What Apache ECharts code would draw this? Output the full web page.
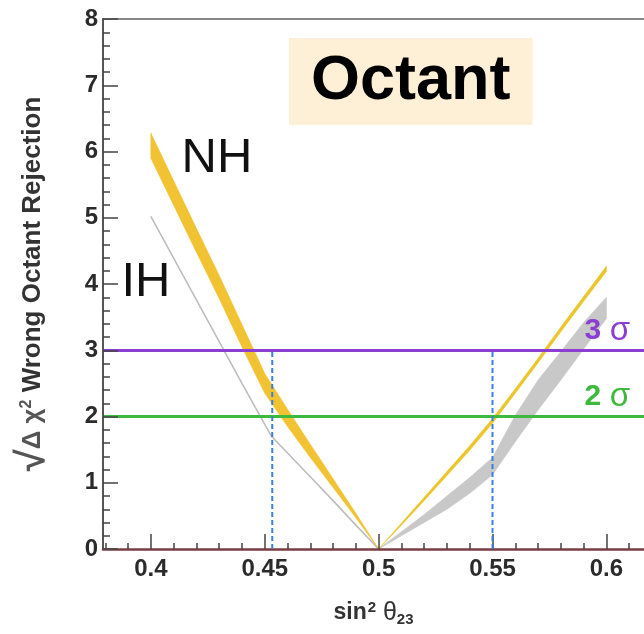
<!DOCTYPE html>
<html>
<head>
<meta charset="utf-8">
<script src="https://cdn.jsdelivr.net/npm/echarts@6/dist/echarts.min.js"></script>
<style>html,body{margin:0;padding:0;background:#fff}#c{width:644px;height:634px}</style>
</head>
<body>
<div id="c"></div>
<script>
// ---- data ----
const xMajorTicks = [0.40, 0.45, 0.50, 0.55, 0.60];
const xTickLabels = ['0.4', '0.45', '0.5', '0.55', '0.6'];
const xMinorTicks = [0.38,0.39,0.41,0.42,0.43,0.44,0.46,0.47,0.48,0.49,0.51,0.52,0.53,0.54,0.56,0.57,0.58,0.59,0.61];

// NH (normal hierarchy) band, lower octant side
const nhLeftX    = [0.40, 0.41, 0.42, 0.43, 0.44, 0.45, 0.46, 0.47, 0.48, 0.49, 0.50];
const nhLeftLow  = [5.90, 5.19, 4.48, 3.78, 3.05, 2.35, 1.85, 1.38, 0.93, 0.47, 0.00];
const nhLeftHigh = [6.28, 5.56, 4.84, 4.13, 3.39, 2.65, 2.11, 1.58, 1.06, 0.54, 0.00];
// NH band, upper octant side
const nhRightX    = [0.50, 0.51, 0.52, 0.53, 0.54, 0.55, 0.56, 0.57, 0.58, 0.59, 0.60];
const nhRightLow  = [0.00, 0.36, 0.73, 1.11, 1.49, 1.90, 2.35, 2.81, 3.28, 3.74, 4.19];
const nhRightHigh = [0.00, 0.39, 0.78, 1.17, 1.56, 1.97, 2.42, 2.88, 3.35, 3.81, 4.27];
// IH (inverted hierarchy) line, lower octant side
const ihLeftX = [0.40, 0.41, 0.42, 0.43, 0.44, 0.45, 0.453, 0.46, 0.47, 0.48, 0.49, 0.50];
const ihLeftY = [5.02, 4.39, 3.76, 3.13, 2.50, 1.88, 1.70, 1.45, 1.09, 0.73, 0.36, 0.00];
// IH band, upper octant side
const ihRightX    = [0.50, 0.51, 0.52, 0.53, 0.54, 0.55, 0.56, 0.57, 0.58, 0.59, 0.60];
const ihRightLow  = [0.00, 0.20, 0.40, 0.60, 0.84, 1.12, 1.62, 2.10, 2.55, 3.02, 3.48];
const ihRightHigh = [0.00, 0.26, 0.52, 0.80, 1.08, 1.38, 2.02, 2.55, 2.98, 3.42, 3.80];

// reference levels and octant boundaries
const sigmaLevels = [3, 2];
const sigmaNames  = ['3', '2'];
const sigmaColors = ['#8a3fd2', '#3dba3d'];
const dashX = [0.4533, 0.55];
const dashTop = 3;

// ---- chart ----
const xMin = 0.379, xMax = 0.6165;
const FF = '"Liberation Sans", Arial, sans-serif';

function bandSeries(name, xs, lo, hi, color, z) {
  return {
    type: 'custom', name: name, z: z,
    data: xs.map((x, i) => [x, lo[i], hi[i]]),
    encode: { x: 0, y: [1, 2] },
    silent: true,
    renderItem: function (params, api) {
      if (params.dataIndex !== 0) return null;
      const pts = [];
      for (let i = 0; i < xs.length; i++) pts.push(api.coord([xs[i], hi[i]]));
      for (let i = xs.length - 1; i >= 0; i--) pts.push(api.coord([xs[i], lo[i]]));
      return { type: 'polygon', shape: { points: pts }, style: { fill: color, stroke: color, lineWidth: 0.6 } };
    }
  };
}

const chart = echarts.init(document.getElementById('c'), null, { renderer: 'canvas' });
const series = [
  bandSeries('IH upper', ihRightX, ihRightLow, ihRightHigh, '#c8c8c8', 2),
  {
    type: 'line', name: 'IH lower', z: 2, symbol: 'none', silent: true,
    data: ihLeftX.map((x, i) => [x, ihLeftY[i]]),
    lineStyle: { color: '#bdbdbd', width: 1.6 },
    markLine: {
      silent: true, symbol: ['none', 'none'], animation: false,
      data: sigmaLevels.map((v, i) => ({
        yAxis: v,
        lineStyle: { color: sigmaColors[i], width: 3, type: 'solid' },
        label: {
          show: true, position: 'insideEndTop', distance: [14, 3],
          formatter: '{n|' + sigmaNames[i] + '}{g| }{s|σ}',
          rich: {
            n: { fontSize: 30, fontWeight: 'bold', color: sigmaColors[i], fontFamily: FF },
            g: { fontSize: 30, color: sigmaColors[i], fontFamily: FF },
            s: { fontSize: 33, color: sigmaColors[i], fontFamily: FF }
          }
        }
      }))
    }
  },
  bandSeries('NH lower', nhLeftX, nhLeftLow, nhLeftHigh, '#f1c232', 3),
  bandSeries('NH upper', nhRightX, nhRightLow, nhRightHigh, '#ecc52a', 3)
];
dashX.forEach((x, i) => {
  series.push({
    type: 'line', name: 'boundary' + i, z: 6, symbol: 'none', silent: true,
    data: [[x, 0], [x, dashTop]],
    lineStyle: { color: '#3c7fd6', width: 2, type: [5, 3] }
  });
});

chart.setOption({
  animation: false,
  backgroundColor: '#ffffff',
  title: {
    text: 'Octant', left: 289, top: 38, padding: [11, 22],
    backgroundColor: '#fdf0d6',
    textStyle: { fontSize: 63, fontWeight: 'bold', color: '#000', fontFamily: FF, lineHeight: 65 }
  },
  grid: { left: 103, right: 0, top: 19, bottom: 85, containLabel: false },
  xAxis: [
    {
      type: 'value', min: xMin, max: xMax, position: 'bottom', z: 5,
      name: '{a|sin}{b|2}{c| θ}{d|23}', nameLocation: 'middle', nameGap: 50,
      nameTextStyle: {
        rich: {
          a: { fontSize: 23, fontWeight: 'bold', color: '#333', fontFamily: FF },
          b: { fontSize: 15, fontWeight: 'bold', color: '#333', fontFamily: FF, padding: [0, 0, 11, 1] },
          c: { fontSize: 25, color: '#333', fontFamily: FF },
          d: { fontSize: 15, fontWeight: 'bold', color: '#333', fontFamily: FF, padding: [13, 0, 0, 0] }
        }
      },
      axisLine: { show: true, onZero: false, lineStyle: { color: '#7b3c43', width: 2.5 } },
      axisTick: { show: true, inside: true, length: 15, customValues: xMajorTicks, lineStyle: { color: '#444', width: 1.5 } },
      axisLabel: {
        customValues: xMajorTicks, margin: 8, fontSize: 24, fontWeight: 'bold', color: '#2b2b2b', fontFamily: FF,
        formatter: v => { const k = xMajorTicks.findIndex(m => Math.abs(m - v) < 1e-9); return k >= 0 ? xTickLabels[k] : ''; }
      },
      splitLine: { show: false }
    },
    {
      type: 'value', min: xMin, max: xMax, position: 'bottom', z: 5,
      axisLine: { show: false },
      axisTick: { show: true, inside: true, length: 6, customValues: xMinorTicks, lineStyle: { color: '#444', width: 1.5 } },
      axisLabel: { show: false }, splitLine: { show: false }
    },
    {
      type: 'value', min: xMin, max: xMax, position: 'top',
      axisLine: { show: true, lineStyle: { color: '#888', width: 2 } },
      axisTick: { show: false }, axisLabel: { show: false }, splitLine: { show: false }
    }
  ],
  yAxis: {
    type: 'value', min: 0, max: 8, interval: 1, z: 5,
    name: '{r|√}{d|Δ χ}{s|2} Wrong Octant Rejection', nameLocation: 'middle', nameGap: 50, nameRotate: 90,
    nameTextStyle: {
      fontSize: 26, fontWeight: 'bold', color: '#333', fontFamily: FF,
      rich: {
        r: { fontSize: 40, color: '#555', fontFamily: FF },
        d: { fontSize: 26, color: '#555', fontFamily: FF },
        s: { fontSize: 16, fontWeight: 'bold', color: '#555', fontFamily: FF, padding: [0, 0, 13, 0] }
      }
    },
    axisLine: { show: true, lineStyle: { color: '#555', width: 2 } },
    axisTick: { show: true, inside: true, length: 15, lineStyle: { color: '#444', width: 1.5 } },
    minorTick: { show: true, splitNumber: 5, length: 7, lineStyle: { color: '#444', width: 1.5 } },
    axisLabel: { margin: 5, fontSize: 24, fontWeight: 'bold', color: '#2b2b2b', fontFamily: FF },
    splitLine: { show: false }, minorSplitLine: { show: false }
  },
  graphic: [
    { type: 'text', x: 217, y: 158, z: 10, style: { text: 'NH', fontSize: 49, fontFamily: FF, fill: '#111', align: 'center', verticalAlign: 'middle' } },
    { type: 'text', x: 146, y: 282, z: 10, style: { text: 'IH', fontSize: 49, fontFamily: FF, fill: '#111', align: 'center', verticalAlign: 'middle' } }
  ],
  series: series
});
</script>
</body>
</html>
